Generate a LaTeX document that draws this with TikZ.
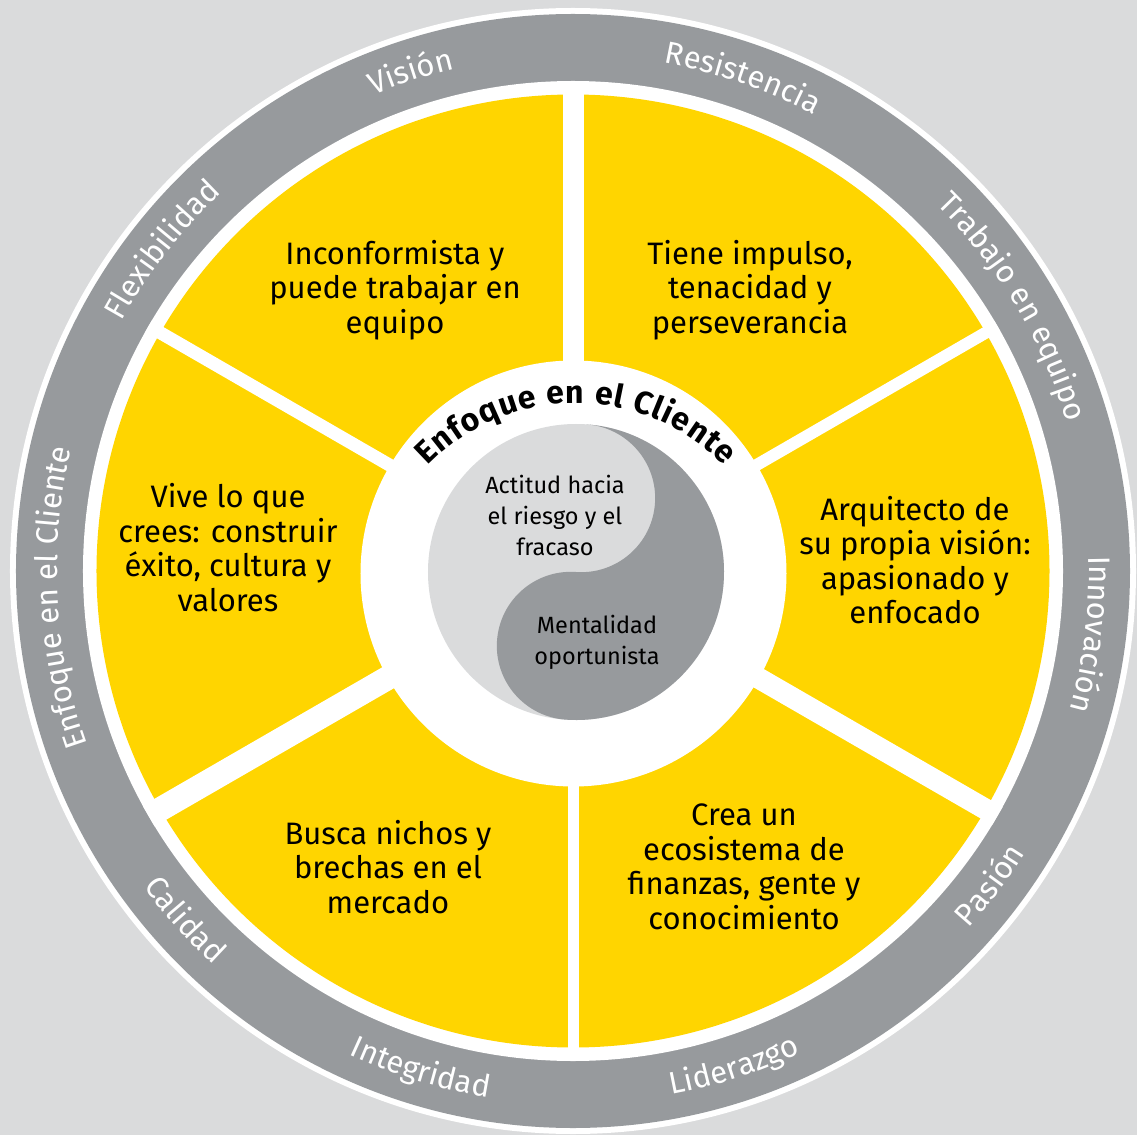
\documentclass[tikz,border=0pt]{standalone}
\usepackage{fontspec}
\setmainfont{Fira Sans}
\usetikzlibrary{decorations.text}
\definecolor{paper}{HTML}{DADBDC}
\definecolor{ring}{HTML}{979A9D}
\definecolor{sun}{HTML}{FFD500}
\newcommand\ringfnt{\fontsize{31}{31}\selectfont}
\newcommand\hubfnt{\fontsize{32}{32}\selectfont\bfseries}
\tikzset{
  sector/.style={align=center,inner sep=0pt,text=black,font=\fontsize{31}{34.5}\selectfont},
  core/.style={align=center,inner sep=0pt,text=black,font=\fontsize{23.5}{31}\selectfont},
  gap/.style={draw=white,line width=#1},
  cw/.style={decorate,decoration={text along path,text align=center,text color=white,text={|\ringfnt|#1}}},
  ccw/.style={cw=#1},
}

\begin{document}
\begin{tikzpicture}[x=1pt,y=1pt]
  \useasboundingbox[fill=paper] (-573,-564) rectangle (564,571);
  % outer band and yellow wheel
  \fill[white] (0,0) circle (563);
  \fill[ring] (0,0) circle (557);
  \fill[white] (0,0) circle (490);
  \fill[sun] (0,0) circle (476.5);
  \foreach \a/\w in {90/21,30/12,-30/21,-90/11,210/24,150/13}
    \draw[gap=\w pt] (0,0) -- (\a:490);
  \fill[white] (0.5,-2.5) circle (213);
  % yin-yang in the hub
  \fill[paper] (3,-1) circle (148);
  \fill[ring,rotate around={-4:(3,-1)}] (3,147) arc[start angle=90,end angle=-90,radius=74]
    arc[start angle=90,end angle=270,radius=74]
    arc[start angle=-90,end angle=90,radius=148] -- cycle;
  \path[decorate,decoration={text along path,text align={fit to path},text={|\hubfnt|Enfoque en el Cliente}}]
    (3,-38) ++(136:206) arc[start angle=136,end angle=44,radius=206];
  % words round the band: upper ones read clockwise, lower ones anticlockwise
  \path[cw={Visión}] (148:516) arc[start angle=148,end angle=68,radius=516];
  \path[cw={Resistencia}] (111:516) arc[start angle=111,end angle=31,radius=516];
  \path[cw={Trabajo en equipo}] (76:516) arc[start angle=76,end angle=-14,radius=516];
  \path[cw={Innovación}] (33:516) arc[start angle=33,end angle=-47,radius=516];
  \path[cw={Enfoque en el Cliente}] (228:516) arc[start angle=228,end angle=138,radius=516];
  \path[cw={Flexibilidad}] (182:516) arc[start angle=182,end angle=102,radius=516];
  \path[ccw={Pasión}] (-77:533) arc[start angle=-77,end angle=3,radius=533];
  \path[ccw={Liderazgo}] (-112:533) arc[start angle=-112,end angle=-32,radius=533];
  \path[ccw={Integridad}] (-147:533) arc[start angle=-147,end angle=-67,radius=533];
  \path[ccw={Calidad}] (-178:533) arc[start angle=-178,end angle=-98,radius=533];
  % sector texts
  \node[sector] (rebel) at (-178,281) {Inconformista y\\puede trabajar en\\equipo};
  \node[sector] (drive) at (177,281) {Tiene impulso,\\tenacidad y\\perseverancia};
  \node[sector] (vision) at (342,11) {Arquitecto de\\su propia visión:\\apasionado y\\enfocado};
  \node[sector] (values) at (-345,23.5) {Vive lo que\\crees: construir\\éxito, cultura y\\valores};
  \node[sector] (niche) at (-185,-296) {Busca nichos y\\brechas en el\\mercado};
  \node[sector] (eco) at (171,-296) {Crea un\\ecosistema de\\finanzas, gente y\\conocimiento};
  \node[core] (risk) at (-18,56) {Actitud hacia\\el riesgo y el\\fracaso};
  \node[core] (chance) at (24,-71.5) {Mentalidad\\oportunista};
\end{tikzpicture}
\end{document}
